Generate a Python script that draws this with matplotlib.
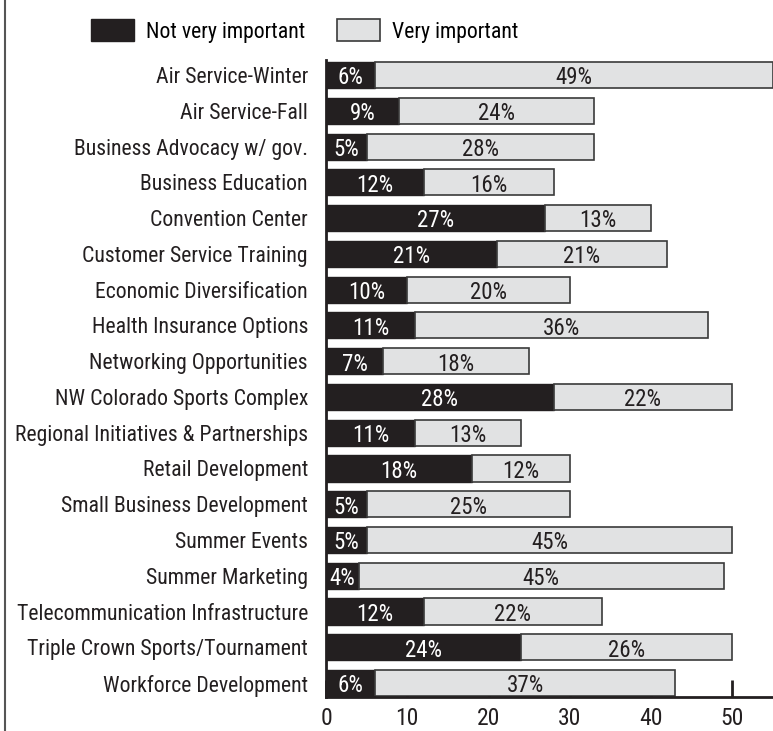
import matplotlib.pyplot as plt
from matplotlib.lines import Line2D
from matplotlib.patches import Patch

categorias = [
    "Air Service-Winter", "Air Service-Fall", "Business Advocacy w/ gov.",
    "Business Education", "Convention Center", "Customer Service Training",
    "Economic Diversification", "Health Insurance Options",
    "Networking Opportunities", "NW Colorado Sports Complex",
    "Regional Initiatives & Partnerships", "Retail Development",
    "Small Business Development", "Summer Events", "Summer Marketing",
    "Telecommunication Infrastructure", "Triple Crown Sports/Tournament",
    "Workforce Development",
]
nao_importante = [6, 9, 5, 12, 27, 21, 10, 11, 7, 28, 11, 18, 5, 5, 4, 12, 24, 6]
muito_importante = [49, 24, 28, 16, 13, 21, 20, 36, 18, 22, 13, 12, 25, 45, 45, 22, 26, 37]
ticks_x = [0, 10, 20, 30, 40, 50]

plt.rcParams['font.family'] = ['Roboto Condensed', 'Archivo Narrow', 'PT Sans Narrow',
                               'Liberation Sans Narrow', 'DejaVu Sans']
tam = 15.7
preto = '#231f20'
cinza = '#e1e2e3'

fig = plt.figure(figsize=(7.73, 7.31), dpi=100)
ax = fig.add_axes([326 / 773, 1 - 697 / 731, 1 - 326 / 773, (697 - 60) / 731])

pos = list(range(len(categorias)))
ax.barh(pos, nao_importante, height=0.73, color=preto, edgecolor=preto, linewidth=1)
ax.barh(pos, muito_importante, left=nao_importante, height=0.73,
        color=cinza, edgecolor='#3a3a3a', linewidth=1.2)

for i in pos:
    a = nao_importante[i]
    b = muito_importante[i]
    ax.text(a / 2, i + 0.08, f"{a}%", ha='center', va='center', color='white', fontsize=16.5)
    ax.text(a + b / 2, i + 0.08, f"{b}%", ha='center', va='center', color='#231f20', fontsize=16.5)

ax.set_xlim(0, 55)
ax.set_ylim(17.39, -0.42)
ax.set_yticks(pos)
ax.set_yticklabels(categorias, fontsize=tam, color='#231f20')
ax.tick_params(axis='y', length=0, pad=13)
ax.set_xticks(ticks_x)
ax.set_xticklabels([str(t) for t in ticks_x], fontsize=17, color='#231f20')
ax.tick_params(axis='x', direction='in', length=12, width=2, pad=7, color='#231f20')
ax.set_axisbelow(True)
for lado in ['top', 'right']:
    ax.spines[lado].set_visible(False)
ax.spines['left'].set_linewidth(2)
ax.spines['bottom'].set_linewidth(2)
ax.spines['left'].set_color('#231f20')
ax.spines['bottom'].set_color('#231f20')

# legenda
handles = [Patch(facecolor=preto, edgecolor=preto, label='Not very important'),
           Patch(facecolor=cinza, edgecolor='#3a3a3a', linewidth=1.2, label='Very important')]
fig.legend(handles=handles, loc='center left', bbox_to_anchor=(91 / 773, 1 - 31 / 731),
           ncol=2, frameon=False, fontsize=tam, handlelength=1.95, handleheight=1.15,
           handletextpad=0.55, columnspacing=1.5, borderpad=0, borderaxespad=0)

# moldura da esquerda
fig.add_artist(Line2D([5 / 773, 5 / 773], [0, 1], color='#555555', linewidth=1.5))

plt.savefig('out.png', dpi=100)
